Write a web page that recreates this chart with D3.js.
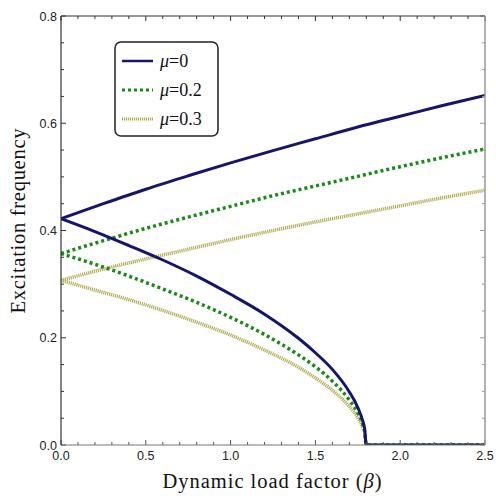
<!DOCTYPE html>
<html>
<head>
<meta charset="utf-8">
<script src="https://cdn.jsdelivr.net/npm/d3@7"></script>
<style>
  body { margin: 0; background: #fff; }
</style>
</head>
<body>
<div id="chart"></div>
<script>
// beta values
var betaUpper = [0, 0.25, 0.5, 0.75, 1.0, 1.25, 1.5, 1.75, 2.0, 2.25, 2.5];
var betaLower = [0, 0.2, 0.4, 0.6, 0.8, 1.0, 1.2, 1.4, 1.5, 1.6, 1.7, 1.75, 1.78, 1.79, 1.8, 2.5];

// excitation frequency, upper and lower branch for each mu
var mu0Upper  = [0.422, 0.450, 0.477, 0.502, 0.526, 0.549, 0.571, 0.593, 0.613, 0.633, 0.652];
var mu0Lower  = [0.422, 0.398, 0.372, 0.345, 0.315, 0.281, 0.244, 0.199, 0.172, 0.141, 0.099, 0.070, 0.044, 0.031, 0, 0];
var mu02Upper = [0.357, 0.381, 0.404, 0.425, 0.445, 0.465, 0.483, 0.501, 0.519, 0.536, 0.552];
var mu02Lower = [0.357, 0.337, 0.315, 0.291, 0.266, 0.238, 0.206, 0.168, 0.146, 0.119, 0.084, 0.060, 0.038, 0.027, 0, 0];
var mu03Upper = [0.307, 0.328, 0.347, 0.365, 0.383, 0.400, 0.416, 0.431, 0.446, 0.461, 0.475];
var mu03Lower = [0.307, 0.289, 0.271, 0.251, 0.229, 0.205, 0.177, 0.145, 0.125, 0.102, 0.072, 0.051, 0.032, 0.023, 0, 0];

var legendLabels = ["0", "0.2", "0.3"];
var xTicks = [0, 0.5, 1.0, 1.5, 2.0, 2.5];
var yTicks = [0, 0.2, 0.4, 0.6, 0.8];

var svgWidth = 496, svgHeight = 499;
var margin = {top: 16, right: 11, bottom: 54, left: 61};
var width = svgWidth - margin.left - margin.right;
var height = svgHeight - margin.top - margin.bottom;

var svg = d3.select("#chart").append("svg")
  .attr("width", svgWidth)
  .attr("height", svgHeight);

// clip so the zero branch sits half under the bottom frame
svg.append("defs").append("clipPath").attr("id", "plotclip")
  .append("rect").attr("width", width).attr("height", height);

var chartGroup = svg.append("g")
  .attr("transform", `translate(${margin.left}, ${margin.top})`);

var x = d3.scaleLinear().domain([0, 2.5]).range([0, width]);
var y = d3.scaleLinear().domain([0, 0.8]).range([height, 0]);

// series styles
var series = [
  {label: legendLabels[0], upper: mu0Upper,  lower: mu0Lower,  color: "#15156b", w: 3,   dash: null},
  {label: legendLabels[1], upper: mu02Upper, lower: mu02Lower, color: "#178a17", w: 3.5, dash: "3,3"},
  {label: legendLabels[2], upper: mu03Upper, lower: mu03Lower, color: "#b4ae55", w: 3.5, dash: "1.2,0.8"}
];

var line = d3.line()
  .x(d => x(d[0]))
  .y(d => y(d[1]))
  .curve(d3.curveMonotoneX);

var curves = chartGroup.append("g").attr("clip-path", "url(#plotclip)");

// draw in reverse so mu=0 on top
series.slice().reverse().forEach(s => {
  [[betaUpper, s.upper], [betaLower, s.lower]].forEach(pair => {
    var pts = pair[0].map((b, i) => [b, pair[1][i]]);
    curves.append("path")
      .datum(pts)
      .attr("d", line)
      .attr("fill", "none")
      .attr("stroke", s.color)
      .attr("stroke-width", s.w)
      .attr("stroke-dasharray", s.dash);
  });
});

// frame with inward ticks
var minorX = d3.range(0, 2.501, 0.1);
var minorY = d3.range(0, 0.801, 0.05);

function tickGroup(vals, scale, isX, pos, dir, color) {
  var g = chartGroup.append("g");
  vals.forEach(v => {
    var major = isX ? Math.abs(v * 2 - Math.round(v * 2)) < 1e-6 : Math.abs(v * 5 - Math.round(v * 5)) < 1e-6;
    var len = major ? 5 : 3;
    var p = scale(v);
    if (isX) {
      g.append("line").attr("x1", p).attr("x2", p).attr("y1", pos).attr("y2", pos + dir * len)
        .attr("stroke", color).attr("stroke-width", 1);
    } else {
      g.append("line").attr("y1", p).attr("y2", p).attr("x1", pos).attr("x2", pos + dir * len)
        .attr("stroke", color).attr("stroke-width", 1);
    }
  });
}
tickGroup(minorX, x, true, height, -1, "#555");
tickGroup(minorX, x, true, 0, 1, "#333");
tickGroup(minorY, y, false, 0, 1, "#333");
tickGroup(minorY, y, false, width, -1, "#999");

chartGroup.append("line").attr("x1", 0).attr("x2", width).attr("y1", 0).attr("y2", 0).attr("stroke", "#333");
chartGroup.append("line").attr("x1", width).attr("x2", width).attr("y1", 0).attr("y2", height).attr("stroke", "#999").attr("stroke-width", 1.5);
chartGroup.append("line").attr("x1", 0).attr("x2", width).attr("y1", height).attr("y2", height).attr("stroke", "#777").attr("stroke-width", 1.2);
chartGroup.append("line").attr("x1", 0).attr("x2", 0).attr("y1", 0).attr("y2", height).attr("stroke", "#333").attr("stroke-width", 1.2);

// tick labels
chartGroup.selectAll(".xlab").data(xTicks).enter().append("text")
  .attr("x", d => x(d)).attr("y", height + 15)
  .attr("text-anchor", "middle")
  .attr("font-family", "Liberation Sans, Arial, sans-serif")
  .attr("font-size", 12.5).attr("fill", "#222")
  .text(d => d.toFixed(1));

chartGroup.selectAll(".ylab").data(yTicks).enter().append("text")
  .attr("x", -4).attr("y", d => y(d) + 4.5)
  .attr("text-anchor", "end")
  .attr("font-family", "Liberation Sans, Arial, sans-serif")
  .attr("font-size", 12.5).attr("fill", "#222")
  .text(d => d.toFixed(1));

// axis titles
var xTitle = svg.append("text")
  .attr("x", 272).attr("y", 488)
  .attr("text-anchor", "middle")
  .attr("textLength", 219).attr("lengthAdjust", "spacing")
  .attr("font-family", "Liberation Serif, Times New Roman, serif")
  .attr("font-size", 20.5).attr("fill", "#111");
xTitle.append("tspan").text("Dynamic load factor (");
xTitle.append("tspan").attr("font-style", "italic").text("β");
xTitle.append("tspan").text(")");

svg.append("text")
  .attr("transform", "translate(25, 221) rotate(-90)")
  .attr("text-anchor", "middle")
  .attr("textLength", 185).attr("lengthAdjust", "spacing")
  .attr("font-family", "Liberation Serif, Times New Roman, serif")
  .attr("font-size", 20.5).attr("fill", "#111")
  .text("Excitation frequency");

// legend
var legend = svg.append("g").attr("transform", "translate(115, 42)");
legend.append("rect")
  .attr("width", 103).attr("height", 94).attr("rx", 6)
  .attr("fill", "#fff").attr("stroke", "#222").attr("stroke-width", 1.5);

series.forEach((s, i) => {
  var ly = 19 + i * 29;
  legend.append("line")
    .attr("x1", 7).attr("x2", 38).attr("y1", ly).attr("y2", ly)
    .attr("stroke", s.color).attr("stroke-width", s.w - 0.5)
    .attr("stroke-dasharray", s.dash);
  var t = legend.append("text")
    .attr("x", 45).attr("y", ly + 6)
    .attr("font-family", "Liberation Serif, Times New Roman, serif")
    .attr("font-size", 18).attr("fill", "#111");
  t.append("tspan").attr("font-style", "italic").text("μ");
  t.append("tspan").text("=" + s.label);
});
</script>
</body>
</html>
